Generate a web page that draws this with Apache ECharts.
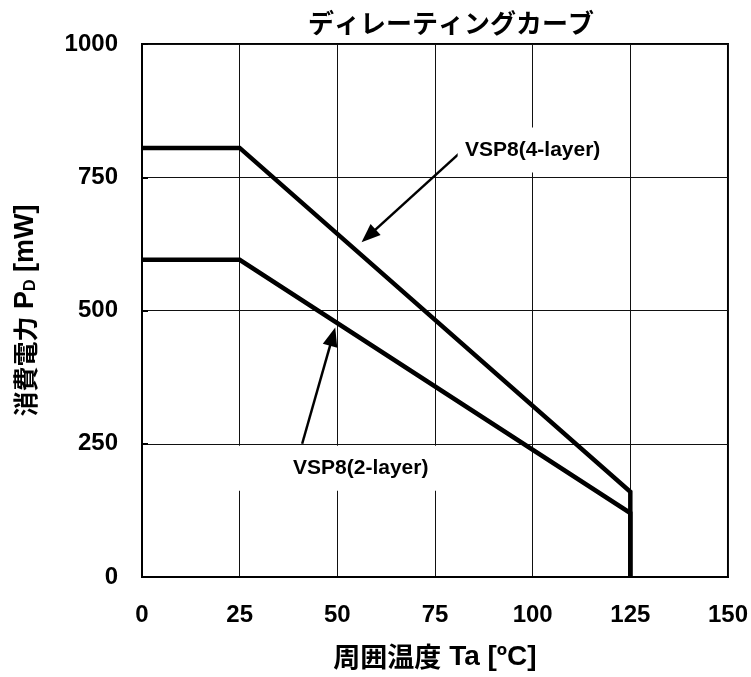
<!DOCTYPE html>
<html><head><meta charset="utf-8">
<script src="https://cdn.jsdelivr.net/npm/echarts@6/dist/echarts.min.js"></script>
<style>html,body{margin:0;padding:0;background:#fff}#c{width:751px;height:677px}</style>
</head><body><div id="c"></div>
<script>
// ---- data ----
const titleText = 'ディレーティングカーブ';
const xTicks = [0, 25, 50, 75, 100, 125, 150];
const yTicks = [0, 250, 500, 750, 1000];
const temp4 = [0, 25, 125, 125];
const power4 = [805, 805, 160, 0];
const temp2 = [0, 25, 125, 125];
const power2 = [595, 595, 120, 0];
const label4 = 'VSP8(4-layer)';
const label2 = 'VSP8(2-layer)';
const arrow4From = [82, 800], arrow4To = [58, 640];
const arrow2From = [41, 250], arrow2To = [48.8, 451];
const label4At = [100, 801];
const label2At = [56, 204];

const CJK = '"Noto Sans CJK JP"';
const LAT = '"Liberation Sans", Arial';
const chart = echarts.init(document.getElementById('c'), null, {renderer: 'canvas'});
const zip = (a, b) => a.map((v, i) => [v, b[i]]);
chart.setOption({
  animation: false,
  backgroundColor: '#fff',
  title: {
    text: titleText, left: 303, top: 5,
    textStyle: {fontFamily: CJK, fontWeight: 'bold', fontSize: 26, color: '#000'}
  },
  grid: {left: 142, right: 23, top: 44, bottom: 100, show: true, borderColor: '#000', borderWidth: 2},
  xAxis: {
    type: 'value', min: xTicks[0], max: xTicks[xTicks.length - 1], interval: 25,
    name: '{c|周囲温度}{l| Ta [ºC]}', nameLocation: 'middle', nameGap: 66,
    nameTextStyle: {rich: {
      c: {fontFamily: CJK, fontWeight: 'bold', fontSize: 27, color: '#000'},
      l: {fontFamily: LAT, fontWeight: 'bold', fontSize: 28, color: '#000'}
    }},
    axisLine: {show: true, lineStyle: {color: '#000', width: 2}},
    axisTick: {show: false},
    axisLabel: {margin: 26, fontFamily: LAT, fontWeight: 'bold', fontSize: 24, color: '#000',
      formatter: v => String(v)},
    splitLine: {show: true, lineStyle: {color: '#111', width: 1}}
  },
  yAxis: {
    type: 'value', min: yTicks[0], max: yTicks[yTicks.length - 1], interval: 250,
    name: '{c|消費電力}{l| P}{s|D}{l| [mW]}', nameLocation: 'middle', nameGap: 103, nameRotate: 90,
    nameTextStyle: {rich: {
      c: {fontFamily: CJK, fontWeight: 'bold', fontSize: 25, color: '#000'},
      l: {fontFamily: LAT, fontWeight: 'bold', fontSize: 27, color: '#000'},
      s: {fontFamily: LAT, fontWeight: 'bold', fontSize: 16, color: '#000', verticalAlign: 'bottom', padding: [10, 0, 0, 0]}
    }},
    axisLine: {show: true, lineStyle: {color: '#000', width: 2}},
    axisTick: {show: true, inside: true, length: 6, lineStyle: {color: '#000', width: 2}},
    axisLabel: {margin: 24, fontFamily: LAT, fontWeight: 'bold', fontSize: 24, color: '#000',
      formatter: v => String(v)},
    splitLine: {show: true, lineStyle: {color: '#111', width: 1}}
  },
  series: [
    {
      type: 'line', data: zip(temp4, power4), symbol: 'none', silent: true,
      lineStyle: {color: '#000', width: 4.5, join: 'miter'},
      markLine: {
        silent: true, symbol: ['none', 'triangle'], symbolSize: [15, 19],
        lineStyle: {color: '#000', width: 2.5, type: 'solid'}, label: {show: false},
        data: [[{coord: arrow4From}, {coord: arrow4To}]]
      },
      markPoint: {
        silent: true, symbol: 'rect', symbolSize: [150, 45], itemStyle: {color: '#fff'},
        label: {show: true, position: 'inside', formatter: label4, fontFamily: LAT, fontWeight: 'bold', fontSize: 21, color: '#000'},
        data: [{coord: label4At}]
      }
    },
    {
      type: 'line', data: zip(temp2, power2), symbol: 'none', silent: true,
      lineStyle: {color: '#000', width: 4.5, join: 'miter'},
      markLine: {
        silent: true, symbol: ['none', 'triangle'], symbolSize: [15, 19],
        lineStyle: {color: '#000', width: 2.5, type: 'solid'}, label: {show: false},
        data: [[{coord: arrow2From}, {coord: arrow2To}]]
      },
      markPoint: {
        silent: true, symbol: 'rect', symbolSize: [260, 45], itemStyle: {color: '#fff'},
        label: {show: true, position: 'inside', formatter: label2, fontFamily: LAT, fontWeight: 'bold', fontSize: 21, color: '#000'},
        data: [{coord: label2At}]
      }
    }
  ]
});
</script></body></html>
